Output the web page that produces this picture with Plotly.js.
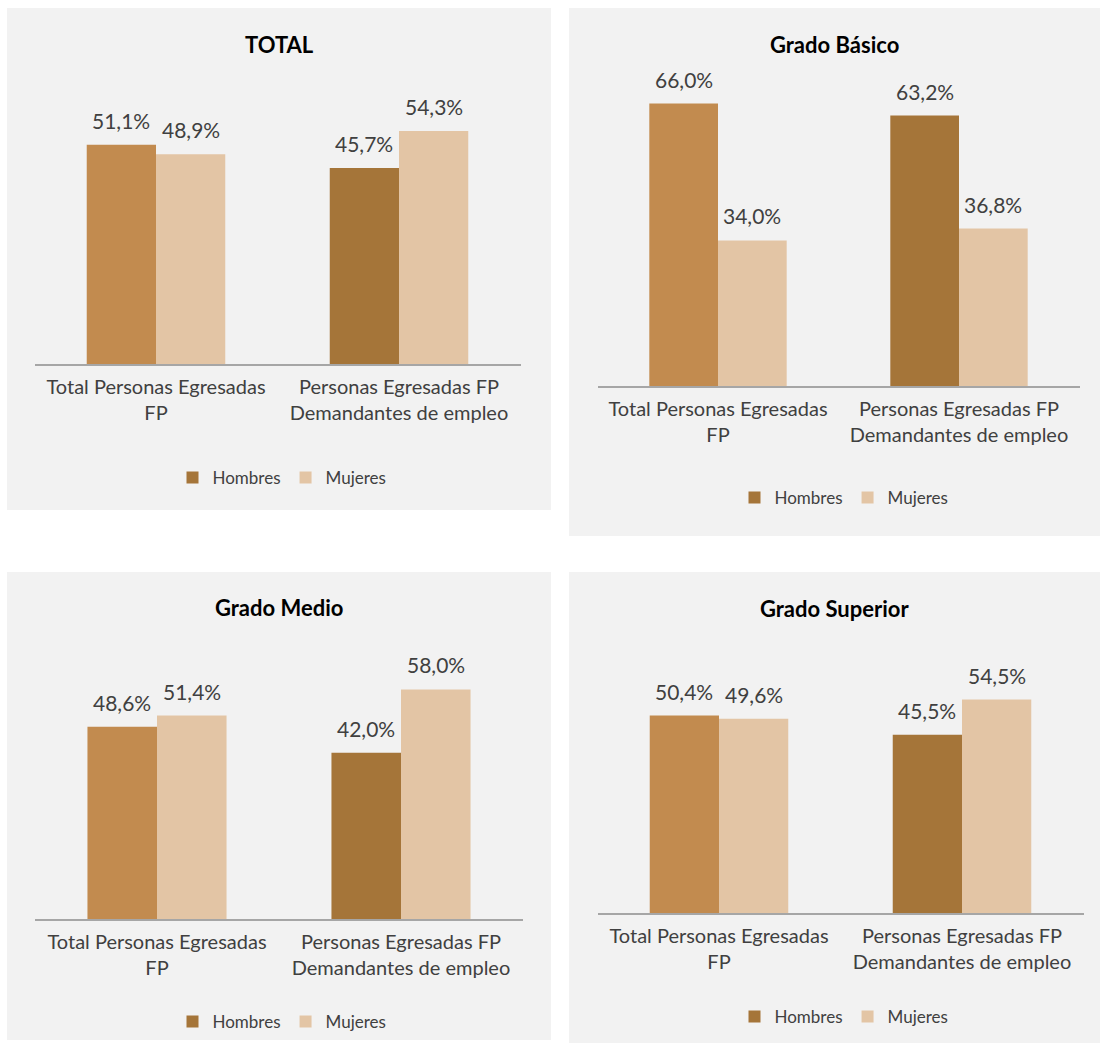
<!DOCTYPE html>
<html>
<head>
<meta charset="utf-8">
<script src="https://cdn.plot.ly/plotly-3.0.1.min.js"></script>
<style>
  html, body { margin: 0; padding: 0; background: #ffffff; }
  #chart { width: 1100px; height: 1043px; }
</style>
</head>
<body>
<div id="chart"></div>
<script>
// ---- Data ----
var categories = ["Total Personas Egresadas<br>FP", "Personas Egresadas FP<br>Demandantes de empleo"];
var seriesNames = ["Hombres", "Mujeres"];
var panelTitles = ["TOTAL", "Grado Básico", "Grado Medio", "Grado Superior"];

var totalHombres = [51.1, 45.7];
var totalMujeres = [48.9, 54.3];
var basicoHombres = [66.0, 63.2];
var basicoMujeres = [34.0, 36.8];
var medioHombres = [48.6, 42.0];
var medioMujeres = [51.4, 58.0];
var superiorHombres = [50.4, 45.5];
var superiorMujeres = [49.6, 54.5];

// ---- Styling ----
var FONT = "Lato, 'Open Sans', sans-serif";
var TXT = "#404040";
var colHombresFirst = "#C28B4F";
var colHombres = "#A57539";
var colMujeres = "#E3C5A5";
var BARGAP = 0.43;

var panels = [
  {title: panelTitles[0], h: totalHombres, m: totalMujeres, box: [7, 8, 551, 510],
   xd: [34.5, 520.5], yd: [106.6, 364], yr: 60, titleY: 45, legY: 478, legX: 282},
  {title: panelTitles[1], h: basicoHombres, m: basicoMujeres, box: [569, 8, 1100, 536],
   xd: [597.5, 1079.5], yd: [86.4, 386], yr: 70, titleY: 45, legY: 498, legX: 844},
  {title: panelTitles[2], h: medioHombres, m: medioMujeres, box: [7, 572, 551, 1040],
   xd: [35, 523], yd: [642, 919], yr: 70, titleY: 607, legY: 1022, legX: 282},
  {title: panelTitles[3], h: superiorHombres, m: superiorMujeres, box: [569, 572, 1100, 1043],
   xd: [597.5, 1083.5], yd: [678, 913], yr: 60, titleY: 608, legY: 1017, legX: 844}
];

var W = 1100, H = 1043;
function px(x) { return x / W; }
function py(y) { return 1 - y / H; }
function fmt(v) { return v.toFixed(1).replace(".", ",") + "%"; }

var traces = [];
var layout = {
  width: W, height: H,
  margin: {l: 0, r: 0, t: 0, b: 0},
  paper_bgcolor: "#ffffff",
  plot_bgcolor: "rgba(0,0,0,0)",
  barmode: "group",
  bargap: BARGAP,
  bargroupgap: 0,
  hovermode: false,
  font: {family: FONT, color: TXT, size: 20},
  shapes: [],
  annotations: []
};

var halfOff = (1 - BARGAP) / 4;

panels.forEach(function (p, i) {
  var n = i + 1;
  var xa = "x" + (n === 1 ? "" : n), ya = "y" + (n === 1 ? "" : n);
  var legName = n === 1 ? "legend" : "legend" + n;
  // order reversed so the legend swatch takes the darker Hombres colour
  var xs = categories.slice().reverse();
  var hColors = [colHombresFirst, colHombres].reverse();
  traces.push({
    type: "bar", name: seriesNames[0], x: xs, y: p.h.slice().reverse(),
    xaxis: xa, yaxis: ya, legend: legName,
    marker: {color: hColors, line: {width: 0}}
  });
  traces.push({
    type: "bar", name: seriesNames[1], x: xs, y: p.m.slice().reverse(),
    xaxis: xa, yaxis: ya, legend: legName,
    marker: {color: colMujeres, line: {width: 0}}
  });

  var xKey = "xaxis" + (n === 1 ? "" : n), yKey = "yaxis" + (n === 1 ? "" : n);
  layout[xKey] = {
    domain: [px(p.xd[0]), px(p.xd[1])],
    anchor: ya,
    type: "category",
    categoryorder: "array", categoryarray: categories,
    showline: true, linecolor: "#a6a6a6", linewidth: 1.5,
    showgrid: false, zeroline: false, ticks: "",
    tickfont: {family: FONT, size: 20, color: TXT},
    ticklabelstandoff: 4,
    fixedrange: true
  };
  layout[yKey] = {
    domain: [py(p.yd[1]), py(p.yd[0])],
    anchor: xa,
    range: [0, p.yr],
    visible: false,
    showgrid: false, zeroline: false,
    fixedrange: true
  };

  layout[legName] = {
    orientation: "h",
    xref: "paper", yref: "paper",
    x: px(p.legX), y: py(p.legY),
    xanchor: "center", yanchor: "middle",
    bgcolor: "rgba(0,0,0,0)",
    font: {family: FONT, size: 17, color: TXT},
    itemclick: false, itemdoubleclick: false
  };

  layout.shapes.push({
    type: "rect", xref: "paper", yref: "paper", layer: "below",
    x0: px(p.box[0]), x1: px(p.box[2]), y0: py(p.box[3]), y1: py(p.box[1]),
    fillcolor: "#f2f2f2", line: {width: 0}
  });

  layout.annotations.push({
    xref: "paper", yref: "paper",
    x: px((p.box[0] + p.box[2]) / 2), y: py(p.titleY),
    xanchor: "center", yanchor: "middle",
    text: "<b>" + p.title + "</b>", showarrow: false,
    font: {family: FONT, size: 22, color: "#000000"}
  });

  // value labels
  categories.forEach(function (c, ci) {
    layout.annotations.push({
      xref: xa, yref: ya, x: ci - halfOff, y: p.h[ci],
      xanchor: "center", yanchor: "bottom", yshift: 10,
      text: fmt(p.h[ci]), showarrow: false,
      font: {family: FONT, size: 21, color: TXT}
    });
    layout.annotations.push({
      xref: xa, yref: ya, x: ci + halfOff, y: p.m[ci],
      xanchor: "center", yanchor: "bottom", yshift: 10,
      text: fmt(p.m[ci]), showarrow: false,
      font: {family: FONT, size: 21, color: TXT}
    });
  });
});

Plotly.newPlot("chart", traces, layout, {displayModeBar: false, staticPlot: true});
</script>
</body>
</html>
